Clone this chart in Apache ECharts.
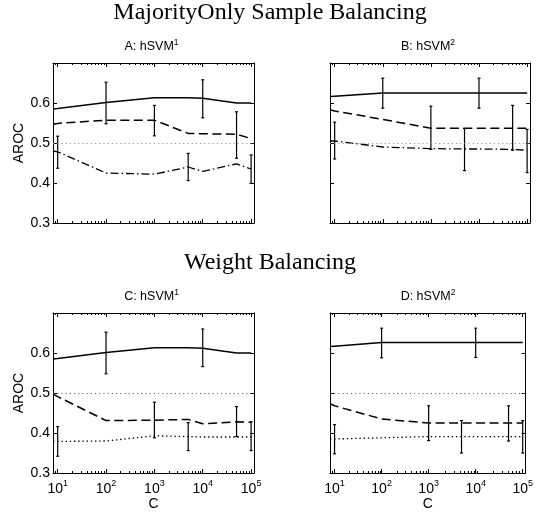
<!DOCTYPE html>
<html>
<head>
<meta charset="utf-8">
<title>AROC vs C</title>
<script src="https://cdn.jsdelivr.net/npm/echarts@6/dist/echarts.min.js"></script>
<style>
  html, body { margin: 0; padding: 0; background: #fff; }
  #chart { width: 536px; height: 513px; }
</style>
</head>
<body>
<div id="chart"></div>
<script>
// x values (C), first entry is the left edge of the axes
var cValues = [8, 10, 100, 1000, 5000, 10000, 50000, 100000];
var majorExp = [1, 2, 3, 4, 5];
var yTicks = [0.3, 0.4, 0.5, 0.6];

// A: MajorityOnly, hSVM1
var solidA   = [0.585, 0.586, 0.601, 0.613, 0.613, 0.612, 0.600, 0.600];
var dashedA  = [0.547, 0.549, 0.557, 0.557, 0.524, 0.523, 0.522, 0.511];
var dashDotA = [0.480, 0.478, 0.425, 0.422, 0.440, 0.429, 0.448, 0.435];
var errA = [[10, 0.437, 0.517], [100, 0.548, 0.652], [1000, 0.518, 0.594], [5000, 0.406, 0.474],
            [10000, 0.563, 0.658], [50000, 0.462, 0.578], [100000, 0.399, 0.470]];

// B: MajorityOnly, hSVM2
var solidB   = [0.616, 0.617, 0.625, 0.625, 0.625, 0.625, 0.625, 0.625];
var dashedB  = [0.583, 0.580, 0.559, 0.537, 0.537, 0.537, 0.537, 0.537];
var dashDotB = [0.505, 0.505, 0.490, 0.486, 0.485, 0.485, 0.484, 0.482];
var errB = [[10, 0.460, 0.552], [100, 0.587, 0.662], [1000, 0.484, 0.592], [5000, 0.431, 0.536],
            [10000, 0.587, 0.662], [50000, 0.482, 0.594], [100000, 0.426, 0.534]];

// C: Weight, hSVM1
var solidC  = [0.585, 0.586, 0.601, 0.613, 0.613, 0.612, 0.600, 0.600];
var dashedC = [0.497, 0.491, 0.431, 0.432, 0.434, 0.423, 0.428, 0.427];
var dottedC = [0.379, 0.379, 0.380, 0.393, 0.391, 0.390, 0.390, 0.390];
var errC = [[10, 0.342, 0.416], [100, 0.548, 0.652], [1000, 0.388, 0.477], [5000, 0.356, 0.426],
            [10000, 0.566, 0.660], [50000, 0.391, 0.466], [100000, 0.356, 0.428]];

// D: Weight, hSVM2
var solidD  = [0.616, 0.617, 0.626, 0.626, 0.626, 0.626, 0.626, 0.626];
var dashedD = [0.473, 0.468, 0.435, 0.425, 0.425, 0.425, 0.425, 0.425];
var dottedD = [0.385, 0.385, 0.388, 0.391, 0.391, 0.391, 0.391, 0.391];
var errD = [[10, 0.348, 0.421], [100, 0.588, 0.662], [1000, 0.381, 0.468], [5000, 0.350, 0.431],
            [10000, 0.589, 0.662], [50000, 0.380, 0.468], [100000, 0.350, 0.431]];

var panelTitles = [['A: hSVM', '1'], ['B: hSVM', '2'], ['C: hSVM', '1'], ['D: hSVM', '2']];
var rowTitles = ['MajorityOnly Sample Balancing', 'Weight Balancing'];

var SANS = 'Liberation Sans, Arial, Helvetica, sans-serif';
var SERIF = 'Liberation Serif, Times New Roman, serif';
var X_MIN = Math.log10(8), X_MAX = 5.06;

var minorTicks = [];
for (var n = 0; n <= 5; n++) {
  for (var k = 2; k <= 9; k++) {
    var v = Math.log10(k * Math.pow(10, n));
    if (v > X_MIN && v < X_MAX) minorTicks.push(v);
  }
}

function lineData(vals) {
  return cValues.map(function (c, i) { return [Math.log10(c), vals[i]]; });
}
function errData(rows) {
  return rows.map(function (r) { return [Math.log10(r[0]), r[1], r[2]]; });
}

var panels = [
  { grid: { left: 53, top: 63, width: 201, height: 160 }, lines: [solidA, dashedA, dashDotA], third: [8, 3, 1.5, 3], err: errA, yLab: true, xLab: false, ref: '#999' },
  { grid: { left: 330, top: 63, width: 200, height: 160 }, lines: [solidB, dashedB, dashDotB], third: [8, 3, 1.5, 3], err: errB, yLab: false, xLab: false, ref: '#999' },
  { grid: { left: 53, top: 313, width: 201, height: 160 }, lines: [solidC, dashedC, dottedC], third: [1.4, 2.8], err: errC, yLab: true, xLab: true, ref: '#666' },
  { grid: { left: 330, top: 313, width: 200, height: 160 }, lines: [solidD, dashedD, dottedD], third: [1.4, 2.8], err: errD, yLab: false, xLab: true, ref: '#666' }
];

function errRender(params, api) {
  var x = api.value(0);
  var p1 = api.coord([x, api.value(1)]);
  var p2 = api.coord([x, api.value(2)]);
  var cap = 1.5;
  var st = { stroke: '#000', lineWidth: 1.2 };
  return {
    type: 'group',
    children: [
      { type: 'line', shape: { x1: p1[0], y1: p1[1], x2: p2[0], y2: p2[1] }, style: st },
      { type: 'line', shape: { x1: p1[0] - cap, y1: p1[1], x2: p1[0] + cap, y2: p1[1] }, style: st },
      { type: 'line', shape: { x1: p2[0] - cap, y1: p2[1], x2: p2[0] + cap, y2: p2[1] }, style: st }
    ]
  };
}

var grids = [], xAxes = [], yAxes = [], series = [], graphics = [];

panels.forEach(function (p, i) {
  // main grid
  grids.push({ left: p.grid.left, top: p.grid.top, width: p.grid.width, height: p.grid.height });
  var g = grids.length - 1;
  var xb = {
    type: 'value', gridIndex: g, position: 'bottom', min: X_MIN, max: X_MAX,
    axisLine: { show: true, onZero: false, lineStyle: { color: '#000', width: 1 } },
    axisTick: { show: true, inside: true, length: 4, customValues: majorExp, lineStyle: { color: '#000' } },
    axisLabel: {
      show: p.xLab, customValues: majorExp, margin: 6,
      formatter: function (v) { return '{b|10}{s|' + Math.round(v) + '}'; },
      rich: {
        b: { fontSize: 14, fontFamily: SANS, color: '#000', verticalAlign: 'bottom', lineHeight: 17 },
        s: { fontSize: 9, fontFamily: SANS, color: '#000', verticalAlign: 'top', lineHeight: 17 }
      }
    },
    splitLine: { show: false }
  };
  if (p.xLab) {
    xb.name = 'C';
    xb.nameLocation = 'middle';
    xb.nameGap = 24;
    xb.nameTextStyle = { fontSize: 14, fontFamily: SANS, color: '#000' };
  }
  xAxes.push(xb);
  xAxes.push({
    type: 'value', gridIndex: g, position: 'top', min: X_MIN, max: X_MAX,
    axisLine: { show: true, onZero: false, lineStyle: { color: '#000', width: 1 } },
    axisTick: { show: true, inside: true, length: 4, customValues: majorExp, lineStyle: { color: '#000' } },
    axisLabel: { show: false }, splitLine: { show: false }
  });
  var yl = {
    type: 'value', gridIndex: g, position: 'left', min: 0.3, max: 0.7,
    axisLine: { show: true, onZero: false, lineStyle: { color: '#000', width: 1 } },
    axisTick: { show: true, inside: true, length: 4, customValues: yTicks, lineStyle: { color: '#000' } },
    axisLabel: {
      show: p.yLab, customValues: yTicks, margin: 3, fontSize: 14, fontFamily: SANS, color: '#000',
      formatter: function (v) { return v.toFixed(1); }
    },
    splitLine: { show: false }
  };
  if (p.yLab) {
    yl.name = 'AROC';
    yl.nameLocation = 'middle';
    yl.nameGap = 25;
    yl.nameRotate = 90;
    yl.nameTextStyle = { fontSize: 14, fontFamily: SANS, color: '#000' };
  }
  yAxes.push(yl);
  yAxes.push({
    type: 'value', gridIndex: g, position: 'right', min: 0.3, max: 0.7,
    axisLine: { show: true, onZero: false, lineStyle: { color: '#000', width: 1 } },
    axisTick: { show: true, inside: true, length: 4, customValues: yTicks, lineStyle: { color: '#000' } },
    axisLabel: { show: false }, splitLine: { show: false }
  });
  var xi = xAxes.length - 2, yi = yAxes.length - 2;

  series.push({
    type: 'line', xAxisIndex: xi, yAxisIndex: yi, data: lineData(p.lines[0]),
    symbol: 'none', lineStyle: { color: '#000', width: 1.5 },
    markLine: {
      silent: true, symbol: 'none', label: { show: false },
      lineStyle: { color: p.ref, width: 1, type: [1.2, 3] },
      data: [{ yAxis: 0.5 }]
    }
  });
  series.push({
    type: 'line', xAxisIndex: xi, yAxisIndex: yi, data: lineData(p.lines[1]),
    symbol: 'none', lineStyle: { color: '#000', width: 1.5, type: [9, 4.5] }
  });
  series.push({
    type: 'line', xAxisIndex: xi, yAxisIndex: yi, data: lineData(p.lines[2]),
    symbol: 'none', lineStyle: { color: '#000', width: 1.3, type: p.third }
  });
  series.push({
    type: 'custom', xAxisIndex: xi, yAxisIndex: yi, data: errData(p.err),
    encode: { x: 0, y: [1, 2] }, renderItem: errRender
  });

  // overlay grid for the minor log ticks
  grids.push({ left: p.grid.left, top: p.grid.top, width: p.grid.width, height: p.grid.height });
  var g2 = grids.length - 1;
  ['bottom', 'top'].forEach(function (pos) {
    xAxes.push({
      type: 'value', gridIndex: g2, position: pos, min: X_MIN, max: X_MAX,
      axisLine: { show: false },
      axisTick: { show: true, inside: true, length: 2, customValues: minorTicks, lineStyle: { color: '#000' } },
      axisLabel: { show: false }, splitLine: { show: false }
    });
  });
  yAxes.push({ type: 'value', gridIndex: g2, min: 0.3, max: 0.7, show: false });

  graphics.push({
    type: 'text', x: p.grid.left + p.grid.width / 2 - 2, y: p.grid.top - 17,
    style: {
      text: '{a|' + panelTitles[i][0] + '}{s|' + panelTitles[i][1] + '}',
      align: 'center', verticalAlign: 'middle',
      rich: {
        a: { fontSize: 12.5, fontFamily: SANS, fill: '#000', verticalAlign: 'bottom', lineHeight: 15 },
        s: { fontSize: 8.5, fontFamily: SANS, fill: '#000', verticalAlign: 'top', lineHeight: 15 }
      }
    }
  });
});

rowTitles.forEach(function (t, r) {
  graphics.push({
    type: 'text', x: 270, y: 12.5 + r * 250,
    style: { text: t, fontSize: 24, fontFamily: SERIF, fill: '#000', align: 'center', verticalAlign: 'middle' }
  });
});

var myChart = echarts.init(document.getElementById('chart'), null, { renderer: 'canvas' });
myChart.setOption({
  animation: false,
  backgroundColor: '#fff',
  grid: grids,
  xAxis: xAxes,
  yAxis: yAxes,
  series: series,
  graphic: graphics
});
</script>
</body>
</html>
